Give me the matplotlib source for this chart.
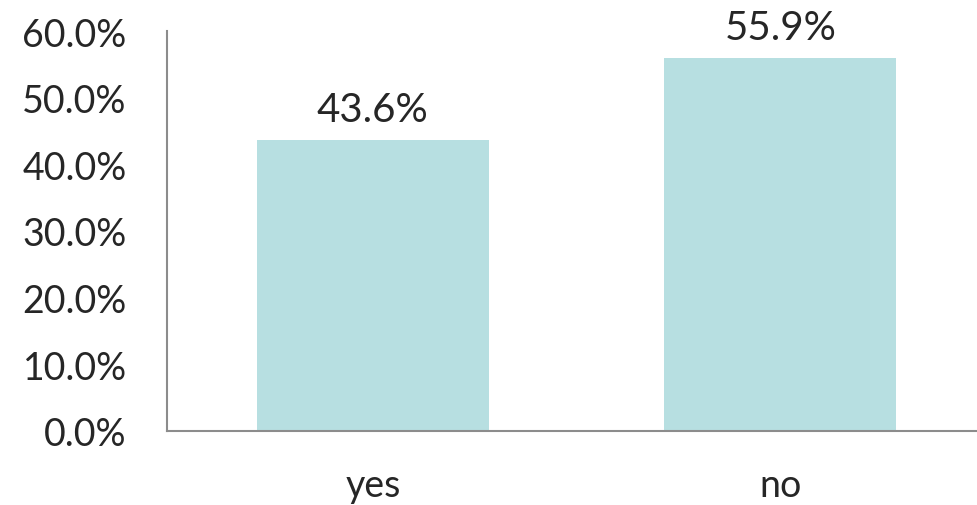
from matplotlib import pyplot as plt
from matplotlib.ticker import FuncFormatter

categories = ["yes", "no"]
shares = [43.6, 55.9]
yticks = [0, 10, 20, 30, 40, 50, 60]

plt.rcParams['font.family'] = ['Lato', 'DejaVu Sans']

fig = plt.figure(figsize=(9.78, 5.06), dpi=100)
ax = fig.add_axes([167/978, 74/506, 1 - 167/978, 400/506])

x = range(len(categories))
bars = ax.bar(x, shares, width=0.57, color='#b7dfe1')
for b, v in zip(bars, shares):
    ax.text(b.get_x() + b.get_width()/2, v + 1.8, f"{v:.1f}%",
            ha='center', va='bottom', fontsize=29, color='#262626')

ax.set_xlim(-0.505, 1.485)
ax.set_ylim(0, 60)
ax.set_yticks(yticks)
ax.yaxis.set_major_formatter(FuncFormatter(lambda v, p: f"{v:.1f}%"))
ax.set_xticks(list(x))
ax.set_xticklabels(categories)
ax.tick_params(axis='y', length=0, pad=29, labelsize=27, labelcolor='#262626')
ax.tick_params(axis='x', length=0, pad=26, labelsize=27, labelcolor='#262626')
for s in ['top', 'right']:
    ax.spines[s].set_visible(False)
for s in ['left', 'bottom']:
    ax.spines[s].set_color('#8c8c8c')
    ax.spines[s].set_linewidth(1.5)

fig.savefig('out.png', dpi=100)
